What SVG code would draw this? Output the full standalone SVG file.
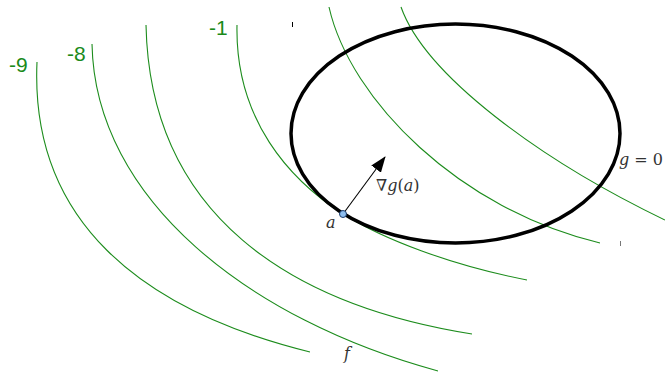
<svg xmlns="http://www.w3.org/2000/svg" width="665" height="374" viewBox="0 0 665 374">
<style>
.lvl{fill:none;stroke:#1c8c1c;stroke-width:1.1}
</style>
<defs>
<marker id="ah" markerWidth="16" markerHeight="12" refX="15" refY="6" orient="auto" markerUnits="userSpaceOnUse">
<path d="M0,0 L16,6 L0,12 Z" fill="#000"/>
</marker>
</defs>
<rect width="665" height="374" fill="#fff"/>
<g id="connectors">
<path class="lvl" d="M37,62 C30,220 140,310 310,352"/>
<path class="lvl" d="M92,44 C95,200 250,320 438,371"/>
<path class="lvl" d="M146,25 C150,215 290,305 472,334"/>
<path class="lvl" d="M237,25 C235,120 290,180 343,214 C383,239 450,265 527,280"/>
<path class="lvl" d="M329,7 C350,100 460,210 600,243"/>
<path class="lvl" d="M401,7 C425,75 540,160 665,220"/>
<line x1="343" y1="214" x2="385" y2="157" stroke="#000" stroke-width="1.1" marker-end="url(#ah)"/>
</g>
<g id="constraint">
<ellipse cx="455.5" cy="133.5" rx="164.5" ry="109.5" fill="none" stroke="#000" stroke-width="3.5"/>
</g>
<g id="point-a">
<circle cx="343" cy="214" r="3.5" fill="#8dbef0" stroke="#1a3a6a" stroke-width="1"/>
</g>
<g id="labels" font-family="'Liberation Sans', Arimo, Arial, sans-serif" font-size="21" fill="#1a8a1a">
<text x="9" y="72">-9</text>
<text x="67" y="61">-8</text>
<text x="209" y="35">-1</text>
</g>
<g id="math" font-family="'DejaVu Serif', serif" font-size="16" fill="#333">
<text x="326" y="228" font-style="italic">a</text>
<text x="376" y="191">∇<tspan font-style="italic">g</tspan>(<tspan font-style="italic">a</tspan>)</text>
<text x="619" y="165"><tspan font-style="italic">g</tspan> = 0</text>
<text x="344" y="359" font-style="italic">f</text>
</g>
<g id="ticks">
<line x1="292.5" y1="22" x2="292.5" y2="27" stroke="#000" stroke-width="1"/>
<line x1="620.5" y1="241" x2="620.5" y2="246" stroke="#777" stroke-width="1"/>
</g>
</svg>
